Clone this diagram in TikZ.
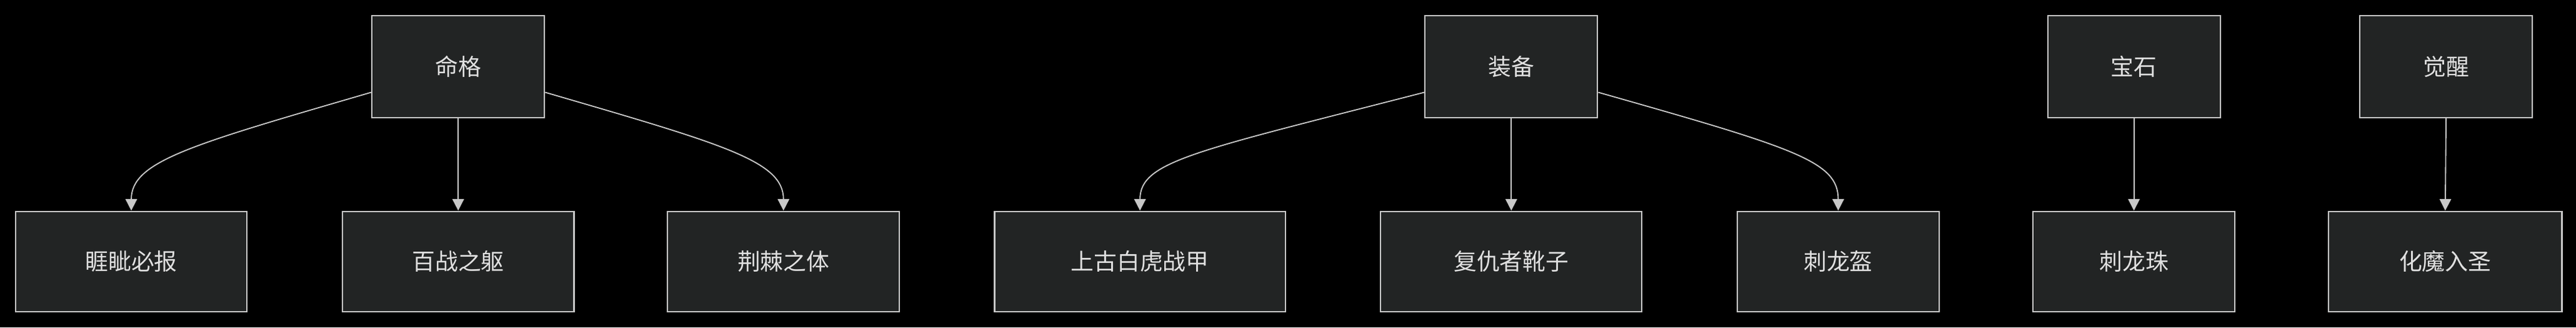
\documentclass[tikz,border=0pt]{standalone}
\usepackage{fontspec}
\newfontfamily\cjk{Noto Sans CJK SC}
\usetikzlibrary{calc,arrows.meta}
\definecolor{boxfill}{HTML}{222424}
\definecolor{boxline}{HTML}{C8C8C8}
\definecolor{txt}{HTML}{E0E0E0}
\tikzset{
  box/.style={draw=boxline,fill=boxfill,line width=0.8pt,text=txt,font=\cjk\fontsize{14}{16}\selectfont,inner sep=0pt,anchor=north west},
  link/.style={draw=boxline,line width=0.7pt,-{Triangle[length=7pt,width=7pt]}}
}
\begin{document}
\begin{tikzpicture}[x=1pt,y=-1pt]
\fill[black] (0,0) rectangle (1568,199);
\useasboundingbox (0,0) rectangle (1568,199);
\newcommand{\bx}[6]{\node[box,minimum width=#4pt,minimum height=#5pt] (#1) at (#2,#3) {#6};}
\bx{mg}{226}{9}{105}{62}{命格}
\bx{zb}{867}{9}{105}{62}{装备}
\bx{bs}{1246}{9}{105}{62}{宝石}
\bx{jx}{1436}{9}{105}{62}{觉醒}
\bx{a}{9}{128}{141}{61}{睚眦必报}
\bx{b}{208}{128}{141}{61}{百战之躯}
\bx{c}{406}{128}{141}{61}{荆棘之体}
\bx{d}{605}{128}{177}{61}{上古白虎战甲}
\bx{e}{840}{128}{159}{61}{复仇者靴子}
\bx{f}{1057}{128}{123}{61}{刺龙盔}
\bx{g}{1237}{128}{123}{61}{刺龙珠}
\bx{h}{1417}{128}{142}{61}{化魔入圣}
\draw[link] ($(mg.south west)!0.25!(mg.north west)$) .. controls +(-110,32) and +(0,-30) .. (a.north);
\draw[link] (mg.south) -- (b.north);
\draw[link] ($(mg.south east)!0.25!(mg.north east)$) .. controls +(110,32) and +(0,-30) .. (c.north);
\draw[link] ($(zb.south west)!0.25!(zb.north west)$) .. controls +(-140,36) and +(0,-30) .. (d.north);
\draw[link] (zb.south) -- (e.north);
\draw[link] ($(zb.south east)!0.25!(zb.north east)$) .. controls +(120,34) and +(0,-30) .. (f.north);
\draw[link] (bs.south) -- (g.north);
\draw[link] (jx.south) -- (h.north);
\end{tikzpicture}
\end{document}
